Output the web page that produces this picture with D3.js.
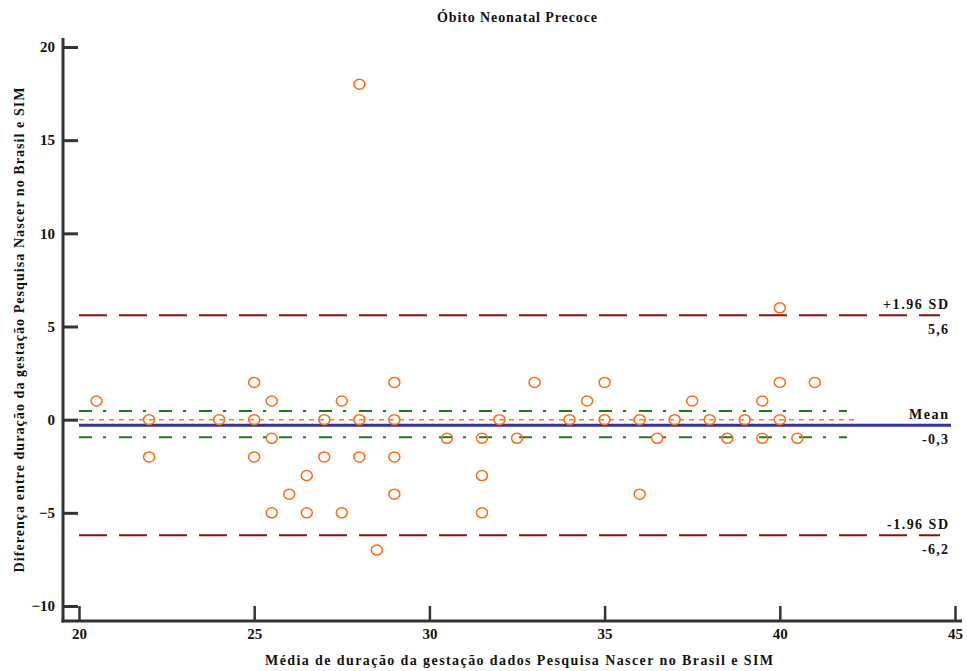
<!DOCTYPE html>
<html>
<head>
<meta charset="utf-8">
<script src="https://cdn.jsdelivr.net/npm/d3@7"></script>
<style>
  body { margin: 0; background: #fff; }
  text { font-family: "Liberation Serif", "Times New Roman", serif; font-weight: bold; fill: #111; }
</style>
</head>
<body>
<div id="chart"></div>
<script>
// Data (x = mean of the two measures, y = difference)
const meanValues = [20.5, 22, 22, 24, 25, 25, 25, 25.5, 25.5, 25.5, 26, 26.5, 26.5, 27, 27, 27.5, 27.5,
  28, 28, 28, 28.5, 29, 29, 29, 29, 30.5, 31.5, 31.5, 31.5, 32, 32.5, 33, 34, 34.5, 35, 35,
  36, 36, 36.5, 37, 37.5, 38, 38.5, 39, 39.5, 39.5, 40, 40, 40, 40.5, 41];
const diffValues = [1, 0, -2, 0, 2, 0, -2, 1, -1, -5, -4, -3, -5, 0, -2, 1, -5,
  18, 0, -2, -7, 2, 0, -2, -4, -1, -1, -3, -5, 0, -1, 2, 0, 1, 2, 0,
  0, -4, -1, 0, 1, 0, -1, 0, 1, -1, 6, 2, 0, -1, 2];

const meanDiff = -0.3;
const upperLimit = 5.6;
const lowerLimit = -6.2;
const ciUpper = 0.47;
const ciLower = -0.95;

const xTicks = [20, 25, 30, 35, 40, 45];
const yTicks = [-10, -5, 0, 5, 10, 15, 20];

const width = 967, height = 671;

const svg = d3.select("#chart")
  .append("svg")
  .attr("width", width)
  .attr("height", height);

// Scales
const x = d3.scaleLinear().domain([20, 45]).range([79, 955]);
const y = d3.scaleLinear().domain([-10, 20]).range([606, 47]);

const axisX = 63;   // position of vertical axis line
const axisY = 621;  // position of horizontal axis line

// Title
svg.append("text")
  .attr("x", 517)
  .attr("y", 22)
  .attr("text-anchor", "middle")
  .attr("textLength", 160)
  .attr("lengthAdjust", "spacing")
  .style("font-size", "14px")
  .text("Óbito Neonatal Precoce");

// Y axis
const yAxis = svg.append("g")
  .attr("transform", "translate(" + axisX + ",0)")
  .call(d3.axisLeft(y).tickValues(yTicks).tickSize(-15).tickPadding(8));
yAxis.select(".domain").remove();
yAxis.selectAll(".tick line").attr("stroke", "#333").attr("stroke-width", 3);
yAxis.selectAll(".tick text")
  .style("font-size", "15px")
  .style("font-family", "'Liberation Serif', serif")
  .style("font-weight", "bold")
  .attr("fill", "#111");

// X axis
const xAxis = svg.append("g")
  .attr("transform", "translate(0," + axisY + ")")
  .call(d3.axisBottom(x).tickValues(xTicks).tickSize(-15).tickPadding(7));
xAxis.select(".domain").remove();
xAxis.selectAll(".tick line").attr("stroke", "#333").attr("stroke-width", 2.5);
xAxis.selectAll(".tick text")
  .style("font-size", "15px")
  .style("font-family", "'Liberation Serif', serif")
  .style("font-weight", "bold")
  .attr("fill", "#111");

// Axis lines
svg.append("line")
  .attr("x1", axisX).attr("x2", axisX)
  .attr("y1", 38).attr("y2", axisY + 1.5)
  .attr("stroke", "#333").attr("stroke-width", 3);
svg.append("line")
  .attr("x1", axisX - 1.5).attr("x2", 962)
  .attr("y1", axisY).attr("y2", axisY)
  .attr("stroke", "#333").attr("stroke-width", 3);

// Axis titles
svg.append("text")
  .attr("transform", "translate(24,330) rotate(-90)")
  .attr("text-anchor", "middle")
  .attr("textLength", 485)
  .attr("lengthAdjust", "spacing")
  .style("font-size", "14px")
  .text("Diferença entre duração da gestação Pesquisa Nascer no Brasil e SIM");

svg.append("text")
  .attr("x", 519)
  .attr("y", 665)
  .attr("text-anchor", "middle")
  .attr("textLength", 508)
  .attr("lengthAdjust", "spacing")
  .style("font-size", "14px")
  .text("Média de duração da gestação dados Pesquisa Nascer no Brasil e SIM");

// Limits of agreement
[upperLimit, lowerLimit].forEach(v => {
  svg.append("line")
    .attr("x1", x(20)).attr("x2", 940)
    .attr("y1", y(v)).attr("y2", y(v))
    .attr("stroke", "#8b0f0f")
    .attr("stroke-width", 2)
    .attr("stroke-dasharray", "28,12");
});

// Confidence interval of mean
[ciUpper, ciLower].forEach(v => {
  svg.append("line")
    .attr("x1", x(20)).attr("x2", 847)
    .attr("y1", y(v)).attr("y2", y(v))
    .attr("stroke", "#1f7a1f")
    .attr("stroke-width", 2)
    .attr("stroke-dasharray", "13,11,3,13");
});

// Zero line
svg.append("line")
  .attr("x1", x(20)).attr("x2", 857)
  .attr("y1", y(0)).attr("y2", y(0))
  .attr("stroke", "#ff7a1a")
  .attr("stroke-width", 1.5)
  .attr("stroke-dasharray", "5,5");

// Mean line
svg.append("line")
  .attr("x1", x(20)).attr("x2", 951)
  .attr("y1", y(meanDiff)).attr("y2", y(meanDiff))
  .attr("stroke", "#333399")
  .attr("stroke-width", 3);

// Points
svg.append("g")
  .selectAll("ellipse")
  .data(meanValues.map((m, i) => ({ m: m, d: diffValues[i] })))
  .join("ellipse")
  .attr("cx", d => x(d.m))
  .attr("cy", d => y(d.d))
  .attr("rx", 5.5)
  .attr("ry", 5)
  .attr("fill", "none")
  .attr("stroke", "#ff6a10")
  .attr("stroke-width", 1.5);

// Right-side labels
const fmt = v => String(v).replace(".", ",");
const labels = [
  { name: "+1.96 SD", v: upperLimit, w: 65, vw: 20 },
  { name: "Mean", v: meanDiff, w: 39, vw: 26 },
  { name: "-1.96 SD", v: lowerLimit, w: 61, vw: 26 }
];
labels.forEach(l => {
  svg.append("text")
    .attr("x", 948)
    .attr("y", y(l.v) - 6)
    .attr("text-anchor", "end")
    .attr("textLength", l.w)
    .attr("lengthAdjust", "spacing")
    .style("font-size", "14px")
    .text(l.name);
  svg.append("text")
    .attr("x", 948)
    .attr("y", y(l.v) + 19)
    .attr("text-anchor", "end")
    .attr("textLength", l.vw)
    .attr("lengthAdjust", "spacing")
    .style("font-size", "14px")
    .text(fmt(l.v));
});
</script>
</body>
</html>
